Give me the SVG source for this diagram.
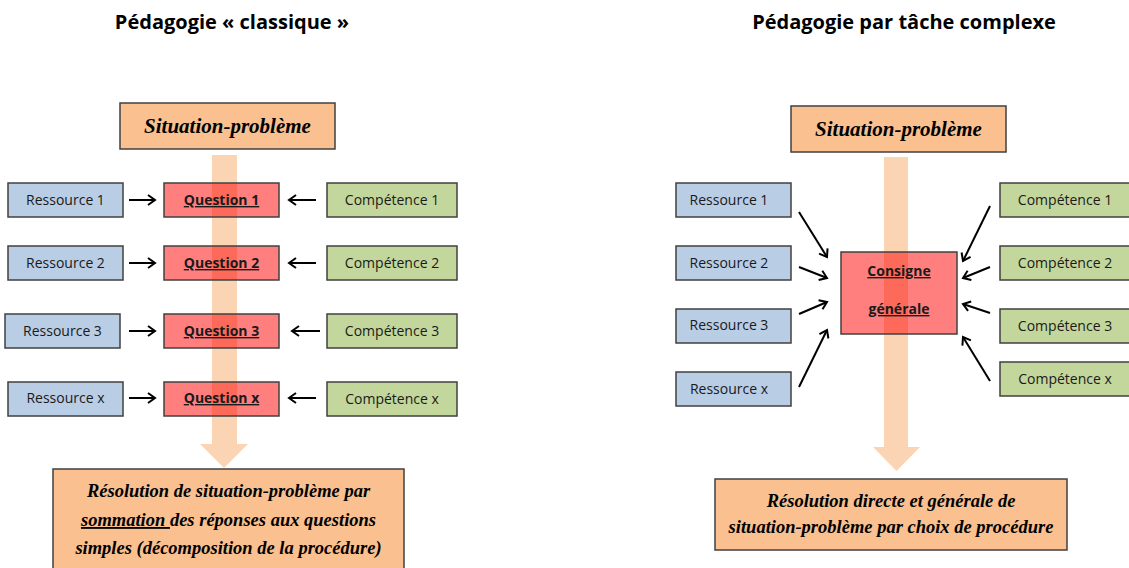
<svg xmlns="http://www.w3.org/2000/svg" width="1129" height="568" viewBox="0 0 1129 568">
<defs>
<style>
.title{font-family:"Open Sans","Liberation Sans",sans-serif;font-weight:bold;font-size:20px;fill:#000}
.lbl{font-family:"Open Sans","Liberation Sans",sans-serif;font-size:14px;fill:#1a1a1a}
.q{font-family:"Open Sans","Liberation Sans",sans-serif;font-size:14px;font-weight:bold;fill:#1a1a1a;text-decoration:underline}
.scr{font-family:"Liberation Serif",serif;font-style:italic;font-weight:bold;font-size:21px;fill:#000}
.scr2{font-family:"Liberation Serif",serif;font-style:italic;font-weight:bold;font-size:18.5px;fill:#000}
.box{stroke:#404040;stroke-width:1.5}
.res{fill:#B9CDE5}
.comp{fill:#C3D69B}
.sit{fill:#FAC090}
.red{fill:#FF0000;fill-opacity:0.5}
.big{fill:#FBD4B4}
.con{stroke:#000;stroke-width:2;fill:none;marker-end:url(#ah)}
</style>
<marker id="ah" viewBox="0 0 12 12" refX="10" refY="6" markerWidth="12" markerHeight="12" markerUnits="userSpaceOnUse" orient="auto">
<polyline points="3,1 10,6 3,11" fill="none" stroke="#000" stroke-width="2"/>
</marker>
</defs>
<rect width="1129" height="568" fill="#fff"/>

<text class="title" x="232" y="29" text-anchor="middle">Pédagogie « classique »</text>
<text class="title" x="904" y="29" text-anchor="middle">Pédagogie par tâche complexe</text>

<g id="bigarrows">
<path class="big" d="M212,155 H237 V444 H248 L224,468 L200,444 H212 Z"/>
<path class="big" d="M884,157 H908 V447 H920 L896.5,471 L873,447 H884 Z"/>
</g>

<g id="L-sit"><rect class="box sit" x="120" y="103" width="215" height="46"/><text class="scr" x="227.5" y="133" text-anchor="middle">Situation-problème</text></g>

<g id="L-r1"><rect class="box res" x="8" y="183" width="115" height="34"/><text class="lbl" x="65.5" y="205" text-anchor="middle">Ressource 1</text></g>
<g id="L-q1"><rect class="box red" x="164" y="183" width="115" height="34"/><text class="q" x="221.5" y="205" text-anchor="middle">Question 1</text></g>
<g id="L-c1"><rect class="box comp" x="327" y="183" width="130" height="34"/><text class="lbl" x="392" y="205" text-anchor="middle">Compétence 1</text></g>

<g id="L-r2"><rect class="box res" x="8" y="246" width="115" height="34"/><text class="lbl" x="65.5" y="268" text-anchor="middle">Ressource 2</text></g>
<g id="L-q2"><rect class="box red" x="164" y="246" width="115" height="34"/><text class="q" x="221.5" y="268" text-anchor="middle">Question 2</text></g>
<g id="L-c2"><rect class="box comp" x="327" y="246" width="130" height="34"/><text class="lbl" x="392" y="268" text-anchor="middle">Compétence 2</text></g>

<g id="L-r3"><rect class="box res" x="5" y="314" width="115" height="34"/><text class="lbl" x="62.5" y="336" text-anchor="middle">Ressource 3</text></g>
<g id="L-q3"><rect class="box red" x="164" y="314" width="115" height="34"/><text class="q" x="221.5" y="336" text-anchor="middle">Question 3</text></g>
<g id="L-c3"><rect class="box comp" x="327" y="314" width="130" height="34"/><text class="lbl" x="392" y="336" text-anchor="middle">Compétence 3</text></g>

<g id="L-rx"><rect class="box res" x="8" y="382" width="115" height="34"/><text class="lbl" x="65.5" y="403" text-anchor="middle">Ressource x</text></g>
<g id="L-qx"><rect class="box red" x="164" y="382" width="115" height="34"/><text class="q" x="221.5" y="403" text-anchor="middle">Question x</text></g>
<g id="L-cx"><rect class="box comp" x="327" y="382" width="130" height="34"/><text class="lbl" x="392" y="404" text-anchor="middle">Compétence x</text></g>

<g id="L-res"><rect class="box sit" x="53" y="469" width="351" height="102"/>
<text class="scr2" x="228.5" y="497" text-anchor="middle">Résolution de situation-problème par</text>
<text class="scr2" x="228.5" y="526" text-anchor="middle"><tspan text-decoration="underline">sommation </tspan>des réponses aux questions</text>
<text class="scr2" x="228.5" y="554" text-anchor="middle">simples (décomposition de la procédure)</text>
</g>

<g id="R-sit"><rect class="box sit" x="791" y="106" width="215" height="46"/><text class="scr" x="898.5" y="136" text-anchor="middle">Situation-problème</text></g>

<g id="R-r1"><rect class="box res" x="676" y="183" width="115" height="34"/><text class="lbl" x="729" y="205" text-anchor="middle">Ressource 1</text></g>
<g id="R-r2"><rect class="box res" x="676" y="246" width="115" height="34"/><text class="lbl" x="729" y="268" text-anchor="middle">Ressource 2</text></g>
<g id="R-r3"><rect class="box res" x="676" y="309" width="115" height="34"/><text class="lbl" x="729" y="330" text-anchor="middle">Ressource 3</text></g>
<g id="R-rx"><rect class="box res" x="676" y="372" width="115" height="34"/><text class="lbl" x="729" y="394" text-anchor="middle">Ressource x</text></g>

<g id="R-c1"><rect class="box comp" x="1000" y="183" width="132" height="34"/><text class="lbl" x="1065" y="205" text-anchor="middle">Compétence 1</text></g>
<g id="R-c2"><rect class="box comp" x="1000" y="246" width="132" height="34"/><text class="lbl" x="1065" y="268" text-anchor="middle">Compétence 2</text></g>
<g id="R-c3"><rect class="box comp" x="1000" y="309" width="132" height="34"/><text class="lbl" x="1065" y="331" text-anchor="middle">Compétence 3</text></g>
<g id="R-cx"><rect class="box comp" x="1000" y="362" width="132" height="34"/><text class="lbl" x="1065" y="384" text-anchor="middle">Compétence x</text></g>

<g id="R-cons"><rect class="box red" x="841" y="252" width="116" height="82"/>
<text class="q" x="899" y="276" text-anchor="middle">Consigne</text>
<text class="q" x="899" y="314" text-anchor="middle">générale</text>
</g>

<g id="R-res"><rect class="box sit" x="715" y="479" width="352" height="71"/>
<text class="scr2" x="891" y="507" text-anchor="middle">Résolution directe et générale de</text>
<text class="scr2" x="891" y="533" text-anchor="middle">situation-problème par choix de procédure</text>
</g>

<g id="connectors">
<line class="con" x1="129" y1="200" x2="155" y2="200"/>
<line class="con" x1="316" y1="200" x2="289" y2="200"/>
<line class="con" x1="129" y1="263" x2="155" y2="263"/>
<line class="con" x1="316" y1="263" x2="289" y2="263"/>
<line class="con" x1="129" y1="331" x2="155" y2="331"/>
<line class="con" x1="320" y1="331" x2="292" y2="331"/>
<line class="con" x1="129" y1="398" x2="155" y2="398"/>
<line class="con" x1="316" y1="398" x2="289" y2="398"/>
<line class="con" x1="799" y1="212" x2="827" y2="257"/>
<line class="con" x1="799" y1="267" x2="827" y2="278"/>
<line class="con" x1="799" y1="314" x2="827" y2="302"/>
<line class="con" x1="799" y1="387" x2="827" y2="330"/>
<line class="con" x1="990" y1="206" x2="963" y2="261"/>
<line class="con" x1="990" y1="267" x2="963" y2="278"/>
<line class="con" x1="990" y1="313" x2="963" y2="304"/>
<line class="con" x1="990" y1="381" x2="963" y2="337"/>
</g>
</svg>
